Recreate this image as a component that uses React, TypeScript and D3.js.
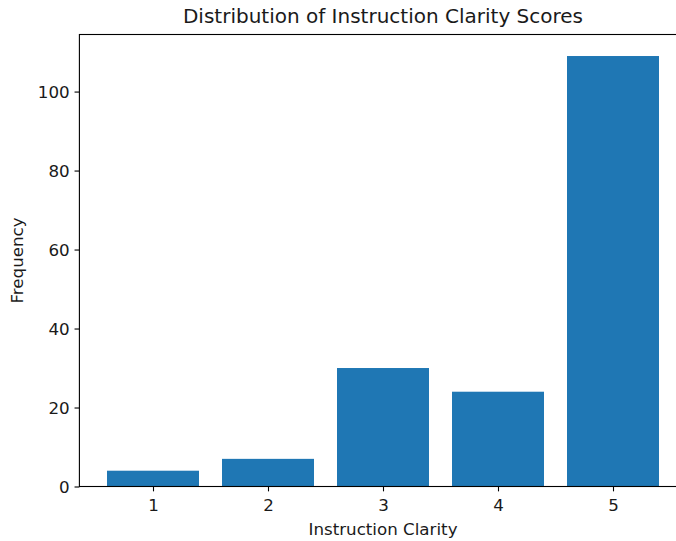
import { useEffect, useRef } from 'react';
import * as d3 from 'd3';

const scores = [1, 2, 3, 4, 5];
const frequencies = [4, 7, 30, 24, 109];
const yTicks = [0, 20, 40, 60, 80, 100];

const W = 676;
const H = 541;

export default function App() {
  const svgRef = useRef<SVGSVGElement>(null);

  useEffect(() => {
    if (!svgRef.current) return;
    const svg = d3.select(svgRef.current);
    svg.selectAll('*').remove();

    const left = 79.4;
    const top = 34.5;
    const bottom = 486.5;
    const unit = 115;
    const barWidth = 0.8;

    // matplotlib-style autoscale: 5% margins around the bar extent
    const xMin = scores[0] - barWidth / 2;
    const xMax = scores[scores.length - 1] + barWidth / 2;
    const xPad = (xMax - xMin) * 0.05;
    const x = d3.scaleLinear()
      .domain([xMin - xPad, xMax + xPad])
      .range([left, left + (xMax - xMin + 2 * xPad) * unit]);

    const yMax = (d3.max(frequencies) || 1) * 1.05;
    const y = d3.scaleLinear().domain([0, yMax]).range([bottom, top]);

    const font = "'DejaVu Sans', sans-serif";
    const ink = '#000';

    svg.append('g')
      .selectAll('rect')
      .data(scores.map((s, i) => ({ s, v: frequencies[i] })))
      .join('rect')
      .attr('x', d => x(d.s - barWidth / 2))
      .attr('width', d => x(d.s + barWidth / 2) - x(d.s - barWidth / 2))
      .attr('y', d => y(d.v))
      .attr('height', d => y(0) - y(d.v))
      .attr('fill', '#1f77b4');

    const xAxis = svg.append('g')
      .attr('transform', `translate(0,${bottom})`)
      .call(d3.axisBottom(x).tickValues(scores).tickFormat(d3.format('d')).tickSize(4.86).tickSizeOuter(0));
    xAxis.select('.domain').remove();
    xAxis.selectAll('line').attr('stroke', ink).attr('stroke-width', 1.1);
    xAxis.selectAll('text')
      .attr('y', 24.5)
      .attr('dy', null)
      .attr('font-family', font)
      .attr('font-size', 16.7)
      .attr('fill', '#1a1a1a');
    xAxis.attr('font-family', font).attr('font-size', 16.7);

    const yAxis = svg.append('g')
      .attr('transform', `translate(${left},0)`)
      .call(d3.axisLeft(y).tickValues(yTicks).tickSize(4.86).tickPadding(4.86).tickSizeOuter(0));
    yAxis.select('.domain').remove();
    yAxis.attr('font-family', font).attr('font-size', 16.7);
    yAxis.selectAll('line').attr('stroke', ink).attr('stroke-width', 1.1);
    yAxis.selectAll('text')
      .attr('dy', '0.36em')
      .attr('fill', '#1a1a1a');

    // spines
    const right = x.range()[1];
    svg.append('rect')
      .attr('x', left)
      .attr('y', top)
      .attr('width', right - left)
      .attr('height', bottom - top)
      .attr('fill', 'none')
      .attr('stroke', ink)
      .attr('stroke-width', 1.1);

    const cx = (left + right) / 2;

    svg.append('text')
      .attr('x', cx)
      .attr('y', 23)
      .attr('text-anchor', 'middle')
      .attr('font-family', font)
      .attr('font-size', 20)
      .attr('fill', '#1a1a1a')
      .text('Distribution of Instruction Clarity Scores');

    svg.append('text')
      .attr('x', cx)
      .attr('y', 535)
      .attr('text-anchor', 'middle')
      .attr('font-family', font)
      .attr('font-size', 16.7)
      .attr('fill', '#1a1a1a')
      .text('Instruction Clarity');

    svg.append('text')
      .attr('transform', `translate(22.5,${(top + bottom) / 2}) rotate(-90)`)
      .attr('text-anchor', 'middle')
      .attr('font-family', font)
      .attr('font-size', 16.7)
      .attr('fill', '#1a1a1a')
      .text('Frequency');
  }, []);

  return (
    <svg
      ref={svgRef}
      width={W}
      height={H}
      style={{ position: 'absolute', left: 0, top: 0, background: '#fff' }}
    />
  );
}
